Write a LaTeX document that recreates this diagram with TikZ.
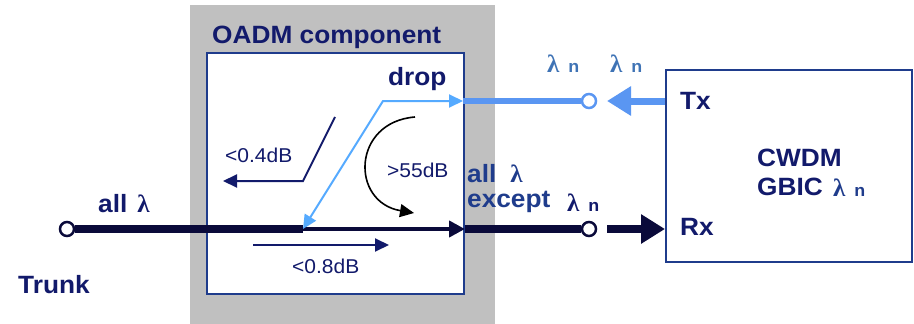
\documentclass[tikz,border=0pt]{standalone}
\usepackage{fontspec}
\setmainfont[FakeStretch=1.05]{Liberation Sans}
\newfontfamily\lam{Liberation Serif}
\usetikzlibrary{arrows.meta}
\definecolor{navy}{HTML}{121A6B}
\definecolor{darkline}{HTML}{0A0A3A}
\definecolor{boxblue}{HTML}{1F3C8C}
\definecolor{midblue}{HTML}{1F3C8C}
\definecolor{steel}{HTML}{3F73B5}
\definecolor{lightblue}{HTML}{55AAFF}
\definecolor{thickblue}{HTML}{5A96F2}
\definecolor{graybg}{HTML}{C0C0C0}
\tikzset{
  big/.style={font=\fontsize{25}{25}\selectfont\bfseries, inner sep=0pt, anchor=base west},
  small/.style={font=\fontsize{20}{20}\selectfont, inner sep=0pt, anchor=base west, text=navy},
  lamn/.style={font=\fontsize{17}{17}\selectfont\bfseries, inner sep=0pt, anchor=base west},
  port/.style={circle, draw, fill=white, line width=2.5pt, minimum size=14pt, inner sep=0pt},
  boxstyle/.style={draw=boxblue, line width=2pt, fill=white, anchor=north west, inner sep=0pt},
}
\newcommand{\lamN}{{\fontsize{25}{25}\selectfont\lam λ}\hspace{9pt}n}
\begin{document}
\begin{tikzpicture}[x=1pt,y=-1pt]
\useasboundingbox (0,0) rectangle (914,324);
% backgrounds and boxes
\node[fill=graybg, anchor=north west, minimum width=305pt, minimum height=320pt, inner sep=0pt] (bg) at (190,5) {};
\node[boxstyle, minimum width=257pt, minimum height=241pt] (oadm) at (206,52) {};
\node[boxstyle, minimum width=246pt, minimum height=192pt] (gbic) at (665,69) {};
% ports
\node[port, draw=darkline] (c1) at (67,229) {};
\node[port, draw=darkline] (c2) at (589,229) {};
\node[port, draw=thickblue] (c3) at (589,101) {};
\coordinate (split) at (303,229);
\coordinate (bend) at (383,101);
\coordinate (dropout) at (463,101);
\coordinate (rxstart) at (607,229);
\coordinate (txend) at (607,101);
% trunk line
\draw[darkline, line width=8pt] (c1) -- (split);
\draw[darkline, line width=4.5pt, -{Triangle[length=16pt,width=16pt]}] (split) -- (oadm.east |- split);
\draw[darkline, line width=8pt] (oadm.east |- split) -- (c2);
\draw[darkline, line width=8pt, -{Triangle[length=24pt,width=28pt]}] (rxstart) -- (gbic.west |- rxstart);
% drop path
\draw[thickblue, line width=6pt] (dropout) -- (c3);
\draw[thickblue, line width=7pt, -{Triangle[length=24pt,width=28pt]}] (gbic.west |- txend) -- (txend);
\draw[lightblue, line width=2pt, {Triangle[length=14pt,width=13pt]}-{Triangle[length=14pt,width=13pt]}] (split) -- (bend) -- (dropout);
% loss arrows
\coordinate (a1) at (335,117);
\coordinate (a2) at (303,181);
\coordinate (a3) at (223,181);
\draw[navy, line width=2pt, -{Triangle[length=14pt,width=13pt]}] (a1) -- (a2) -- (a3);
\coordinate (b1) at (253,245);
\coordinate (b2) at (389,245);
\draw[navy, line width=2pt, -{Triangle[length=14pt,width=13pt]}] (b1) -- (b2);
\coordinate (r1) at (415,117);
\coordinate (r2) at (414,213);
\draw[black, line width=1.6pt, -{Triangle[length=14pt,width=13pt]}] (r1) .. controls (352,122) and (350,202) .. (r2);
% texts
\node[big, text=navy] (title) at (212,43) {OADM component};
\node[big, text=navy] (drop) at (388,85) {drop};
\node[big, text=navy] (trunk) at (18,293) {Trunk};
\node[big, text=navy] (alll) at (98,212) {all\hspace{10pt}{\fontsize{25}{25}\selectfont\lam λ}};
\node[big, text=midblue] (allex1) at (467,182) {all\hspace{14pt}{\fontsize{25}{25}\selectfont\lam λ}};
\node[big, text=midblue] (allex2) at (467,207) {except};
\node[lamn, text=navy] (ln3) at (567,211) {\lamN};
\node[lamn, text=steel] (ln1) at (547,72) {\lamN};
\node[lamn, text=steel] (ln2) at (610,72) {\lamN};
\node[big, text=navy] (tx) at (680,109) {Tx};
\node[big, text=navy] (rx) at (680,235) {Rx};
\node[big, text=navy] (cwdm) at (757,166) {CWDM};
\node[big, text=navy] (gbict) at (757,195) {GBIC};
\node[lamn, text=midblue] (ln4) at (833,196) {\lamN};
\node[small] (l04) at (225,162) {<0.4dB};
\node[small] (l55) at (387,177) {>55dB};
\node[small] (l08) at (292,273) {<0.8dB};
\end{tikzpicture}
\end{document}
